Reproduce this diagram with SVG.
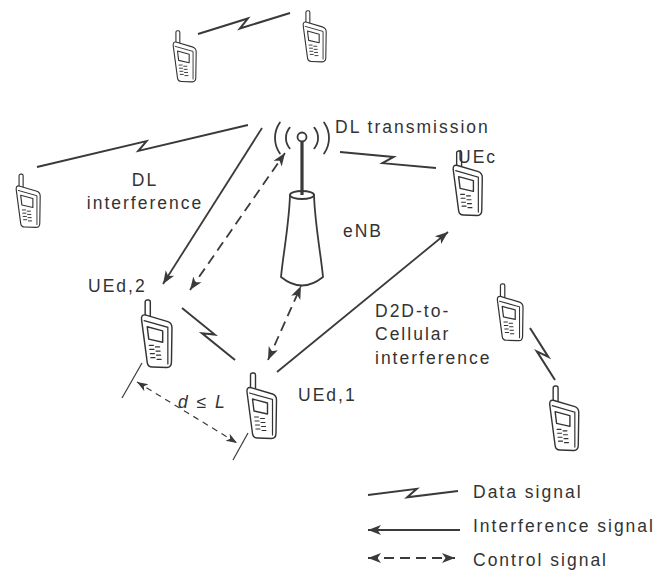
<svg xmlns="http://www.w3.org/2000/svg" xmlns:xlink="http://www.w3.org/1999/xlink" width="658" height="573" viewBox="0 0 658 573">
  <style>
    .bg { fill: #ffffff; }
    .lbl { font-family: "Liberation Sans", Arial, sans-serif; font-size: 17.5px; letter-spacing: 2px; fill: #333333; }
    .lbl-i { font-style: italic; }
    .ph { fill: #ffffff; stroke: #333333; stroke-width: 1.4; stroke-linejoin: round; stroke-linecap: round; }
    .ph-line { fill: none; stroke: #333333; stroke-width: 1.2; stroke-linecap: round; }
    .tw { fill: #ffffff; stroke: #3a3a3a; stroke-width: 1.8; stroke-linejoin: round; }
    .tw-line { fill: none; stroke: #3a3a3a; stroke-width: 1.8; stroke-linecap: round; }
    .data { fill: none; stroke: #3a3a3a; stroke-width: 2; stroke-linejoin: miter; }
    .intf { fill: none; stroke: #3a3a3a; stroke-width: 1.8; marker-end: url(#ah); }
    .ctrl { fill: none; stroke: #3a3a3a; stroke-width: 1.8; stroke-dasharray: 10 6; marker-start: url(#ah); marker-end: url(#ah); }
    .dim { fill: none; stroke: #3a3a3a; stroke-width: 1.2; stroke-dasharray: 6 5; marker-start: url(#ahs); marker-end: url(#ahs); }
    .ext { fill: none; stroke: #3a3a3a; stroke-width: 1.2; }
  </style>
  <defs>
    <marker id="ah" markerUnits="userSpaceOnUse" markerWidth="14" markerHeight="12" refX="13" refY="5" orient="auto-start-reverse" viewBox="0 0 14 10">
      <path d="M0,0 L13,5 L0,10 L3.5,5 Z" fill="#3a3a3a"/>
    </marker>
    <marker id="ahs" markerUnits="userSpaceOnUse" markerWidth="12" markerHeight="10" refX="11" refY="4" orient="auto-start-reverse" viewBox="0 0 12 8">
      <path d="M0,0 L11,4 L0,8 L3,4 Z" fill="#3a3a3a"/>
    </marker>
    <!-- handset drawn in a 32 x 68 box -->
    <symbol id="handset" viewBox="0 0 32 68" overflow="visible">
      <rect class="ph" x="5" y="1" width="5" height="17" rx="2"/>
      <path class="ph" d="M1.5,20 Q1,15 5,15.5 L27,22 Q31,23.5 31,28 L30.5,61 Q30.5,66.5 26,66.5 L12,66 Q7.5,66 7,61.5 Z"/>
      <path class="ph-line" d="M4,21 L27,27.5 L27,63"/>
      <path class="ph" d="M7,27 L22,31 L22,42 L8.5,39 Z"/>
      <path class="ph-line" d="M9,45 h4 M15,46.5 h4 M9.5,49 h4 M15.5,50.5 h4 M10,53 h4 M16,54.5 h4 M10.5,57 h4 M16.5,58.5 h4"/>
    </symbol>
  </defs>

  <rect class="bg" x="0" y="0" width="658" height="573"/>

  <!-- connectors -->
  <g id="connectors">
    <!-- data links (lightning bolt) -->
    <path class="data" transform="translate(198,34) rotate(-12.86)" d="M0,0 L52,-4 L42,4 L94.4,0"/>
    <path class="data" transform="translate(37,167) rotate(-11.26)" d="M0,0 L112.5,-4 L102.5,4 L215.1,0"/>
    <path class="data" transform="translate(340,152) rotate(9.46)" d="M0,0 L53.7,-4 L43.7,4 L97.3,0"/>
    <path class="data" transform="translate(182,308) rotate(44.46)" d="M0,0 L42,-4 L32,4 L74.3,0"/>
    <path class="data" transform="translate(530,328) rotate(64.32)" d="M0,0 L34,-4 L24,4 L57.7,0"/>

    <!-- interference -->
    <line class="intf" x1="262" y1="128" x2="163" y2="284"/>
    <line class="intf" x1="277" y1="372" x2="448" y2="232"/>

    <!-- control -->
    <line class="ctrl" x1="190" y1="290" x2="285" y2="153"/>
    <line class="ctrl" x1="268" y1="360" x2="301" y2="286"/>

    <!-- separation d <= L -->
    <line class="ext" x1="142" y1="363" x2="122" y2="398"/>
    <line class="ext" x1="248" y1="433" x2="233" y2="460"/>
    <line class="dim" x1="137" y1="382" x2="237" y2="443"/>
  </g>

  <!-- base station -->
  <g id="enb">
    <path class="tw-line" d="M289.7,127.7 A16,16 0 0 0 289.7,148.3"/>
    <path class="tw-line" d="M279.9,122.5 A27,27 0 0 0 279.9,153.5"/>
    <path class="tw-line" d="M314.3,127.7 A16,16 0 0 1 314.3,148.3"/>
    <path class="tw-line" d="M324.1,122.5 A27,27 0 0 1 324.1,153.5"/>
    <path class="tw" d="M290,195 C289,225 283,255 281,277 Q302,294 323,277 C321,255 315,225 314,195 Z"/>
    <ellipse class="tw" cx="302" cy="195" rx="12" ry="4"/>
    <line x1="302" y1="142" x2="302" y2="195" stroke="#3a3a3a" stroke-width="3.2"/>
    <circle class="tw" cx="302" cy="137" r="4.5"/>
    <text class="lbl" x="343" y="237">eNB</text>
    <text class="lbl" x="335" y="133">DL transmission</text>
  </g>

  <!-- handsets -->
  <g id="ue-top-left"><use xlink:href="#handset" x="172" y="30" width="25" height="53"/></g>
  <g id="ue-top-right"><use xlink:href="#handset" x="302" y="10" width="25" height="53"/></g>
  <g id="ue-left"><use xlink:href="#handset" x="15" y="172" width="26" height="58"/></g>
  <g id="ue-c">
    <use xlink:href="#handset" x="450" y="150" width="35" height="67"/>
    <text class="lbl" x="458" y="163">UEc</text>
  </g>
  <g id="ue-d2">
    <use xlink:href="#handset" x="140" y="298" width="33" height="72"/>
    <text class="lbl" x="88" y="292">UEd,2</text>
  </g>
  <g id="ue-d1">
    <use xlink:href="#handset" x="245" y="372" width="33" height="68"/>
    <text class="lbl" x="298" y="401">UEd,1</text>
  </g>
  <g id="ue-right-upper"><use xlink:href="#handset" x="495" y="283" width="30" height="59"/></g>
  <g id="ue-right-lower"><use xlink:href="#handset" x="548" y="385" width="32" height="67"/></g>

  <!-- free labels -->
  <g id="labels">
    <text class="lbl" x="145" y="186" text-anchor="middle">DL</text>
    <text class="lbl" x="145" y="209" text-anchor="middle">interference</text>
    <text class="lbl" x="375" y="317">D2D-to-</text>
    <text class="lbl" x="375" y="340">Cellular</text>
    <text class="lbl" x="375" y="364">interference</text>
    <text class="lbl lbl-i" x="178" y="408">d ≤ L</text>
  </g>

  <!-- legend -->
  <g id="legend">
    <path class="data" transform="translate(368,495) rotate(-2.54)" d="M0,0 L49,-4 L39,4 L90.1,0"/>
    <text class="lbl" x="473" y="498">Data signal</text>
    <line class="intf" x1="460" y1="530" x2="368" y2="530"/>
    <text class="lbl" x="473" y="532">Interference signal</text>
    <line class="ctrl" x1="368" y1="558" x2="455" y2="558"/>
    <text class="lbl" x="473" y="566">Control signal</text>
  </g>
</svg>
